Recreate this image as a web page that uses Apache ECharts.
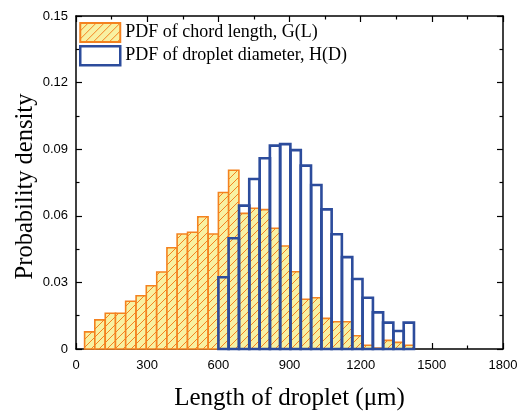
<!DOCTYPE html>
<html>
<head>
<meta charset="utf-8">
<script src="https://cdn.jsdelivr.net/npm/echarts@6/dist/echarts.min.js"></script>
<style>html,body{margin:0;padding:0;background:#fff;}#c{width:528px;height:411px;}</style>
</head>
<body>
<div id="c"></div>
<script>
// ---- data ----
const binWidth = 43.4; // µm
const binCenters = [58, 101, 145, 188, 231, 275, 318, 362, 405, 448, 492, 535, 579, 622, 665, 709,
  752, 796, 839, 882, 926, 969, 1013, 1056, 1099, 1143, 1186, 1230, 1273, 1316, 1360, 1403];
const chordPdf = [0.0077, 0.0131, 0.0161, 0.0161, 0.0215, 0.0240, 0.0285, 0.0347, 0.0456, 0.0518,
  0.0526, 0.0596, 0.0518, 0.0705, 0.0805, 0.0611, 0.0634, 0.0628, 0.0544, 0.0464, 0.0348, 0.0224,
  0.0231, 0.0138, 0.0123, 0.0123, 0.0060, 0.0017, 0.0004, 0.0039, 0.0030, 0.0017];
const dropletCenters = [622, 665, 709, 752, 796, 839, 882, 926, 969, 1013, 1056, 1099, 1143, 1186,
  1230, 1273, 1316, 1360, 1403];
const dropletPdf = [0.0323, 0.0499, 0.0646, 0.0766, 0.0859, 0.0916, 0.0923, 0.0896, 0.0826, 0.0739,
  0.0629, 0.0517, 0.0414, 0.0315, 0.0231, 0.0165, 0.0119, 0.0081, 0.0119];
const xTicks = [0, 300, 600, 900, 1200, 1500, 1800];
const yTicks = [0, 0.03, 0.06, 0.09, 0.12, 0.15];
const seriesNames = ['PDF of chord length, G(L)', 'PDF of droplet diameter, H(D)'];

// ---- styles ----
const ORANGE = '#f4821f';
const YELLOW = '#f8f1a2';
const BLUE = '#2c4c9c';
function hatch() {
  const s = 8;
  const cv = document.createElement('canvas');
  cv.width = s; cv.height = s;
  const g = cv.getContext('2d');
  g.fillStyle = YELLOW; g.fillRect(0, 0, s, s);
  g.strokeStyle = ORANGE; g.lineWidth = 1;
  g.beginPath();
  g.moveTo(0, s); g.lineTo(s, 0);
  g.moveTo(-1, 1); g.lineTo(1, -1);
  g.moveTo(s - 1, s + 1); g.lineTo(s + 1, s - 1);
  g.stroke();
  return cv;
}
const pattern = { image: hatch(), repeat: 'repeat' };

function makeRender(fill, stroke, lw) {
  return function (params, api) {
    const c = api.value(0), v = api.value(1);
    const p0 = api.coord([c - binWidth / 2, v]);
    const p1 = api.coord([c + binWidth / 2, 0]);
    return {
      type: 'rect',
      shape: { x: p0[0], y: p0[1], width: p1[0] - p0[0], height: p1[1] - p0[1] },
      style: { fill: fill, stroke: stroke, lineWidth: lw }
    };
  };
}

const chart = echarts.init(document.getElementById('c'), null, { renderer: 'canvas' });
const xMin = xTicks[0], xMax = xTicks[xTicks.length - 1];
const yMin = yTicks[0], yMax = yTicks[yTicks.length - 1];
const axisCommon = {
  axisLine: { show: true, onZero: false, lineStyle: { color: '#000', width: 1.5 } },
  axisTick: { show: true, inside: true, length: 6, lineStyle: { color: '#000', width: 1.2 } },
  minorTick: { show: true, splitNumber: 2, length: 3.5, lineStyle: { color: '#000', width: 1.2 } },
  splitLine: { show: false }
};
const labelStyle = { color: '#000', fontFamily: 'Liberation Sans', fontSize: 13 };

chart.setOption({
  animation: false,
  backgroundColor: '#fff',
  grid: { left: 76, right: 25, top: 16, bottom: 62, containLabel: false, outerBoundsMode: 'none' },
  legend: {
    orient: 'vertical', left: 79, top: 22, padding: 0,
    itemWidth: 40, itemHeight: 19, itemGap: 2,
    icon: 'rect',
    textStyle: { color: '#000', fontFamily: 'Liberation Serif', fontSize: 18 },
    data: [
      { name: seriesNames[0], itemStyle: { color: pattern, borderColor: ORANGE, borderWidth: 2 } },
      { name: seriesNames[1], itemStyle: { color: '#fff', borderColor: BLUE, borderWidth: 2.5 } }
    ]
  },
  xAxis: [
    Object.assign({}, axisCommon, {
      type: 'value', min: xMin, max: xMax, interval: 300, position: 'bottom',
      name: 'Length of droplet (\u03bcm)', nameLocation: 'middle', nameGap: 37, nameMoveOverlap: false,
      nameTextStyle: { color: '#000', fontFamily: 'Liberation Serif', fontSize: 25 },
      axisLabel: Object.assign({ margin: 10, formatter: v => String(v) }, labelStyle)
    }),
    Object.assign({}, axisCommon, {
      type: 'value', min: xMin, max: xMax, interval: 300, position: 'top',
      axisLabel: { show: false }
    })
  ],
  yAxis: [
    Object.assign({}, axisCommon, {
      type: 'value', min: yMin, max: yMax, interval: 0.03, position: 'left',
      name: 'Probability density', nameLocation: 'middle', nameGap: 38, nameMoveOverlap: false,
      nameTextStyle: { color: '#000', fontFamily: 'Liberation Serif', fontSize: 24.5, padding: [0, 8, 0, 0] },
      axisLabel: Object.assign({ margin: 8, formatter: v => (v === 0 ? '0' : String(+v.toFixed(2))) }, labelStyle)
    }),
    Object.assign({}, axisCommon, {
      type: 'value', min: yMin, max: yMax, interval: 0.03, position: 'right',
      axisLabel: { show: false }
    })
  ],
  series: [
    {
      name: seriesNames[0], type: 'custom', xAxisIndex: 0, yAxisIndex: 0, z: 2,
      itemStyle: { color: pattern, borderColor: ORANGE, borderWidth: 2 },
      renderItem: makeRender(pattern, ORANGE, 1.6),
      encode: { x: 0, y: 1 },
      data: binCenters.map((c, i) => [c, chordPdf[i]])
    },
    {
      name: seriesNames[1], type: 'custom', xAxisIndex: 0, yAxisIndex: 0, z: 3,
      itemStyle: { color: '#fff', borderColor: BLUE, borderWidth: 2.5 },
      renderItem: makeRender(null, BLUE, 2.6),
      encode: { x: 0, y: 1 },
      data: dropletCenters.map((c, i) => [c, dropletPdf[i]])
    }
  ]
});
</script>
</body>
</html>
